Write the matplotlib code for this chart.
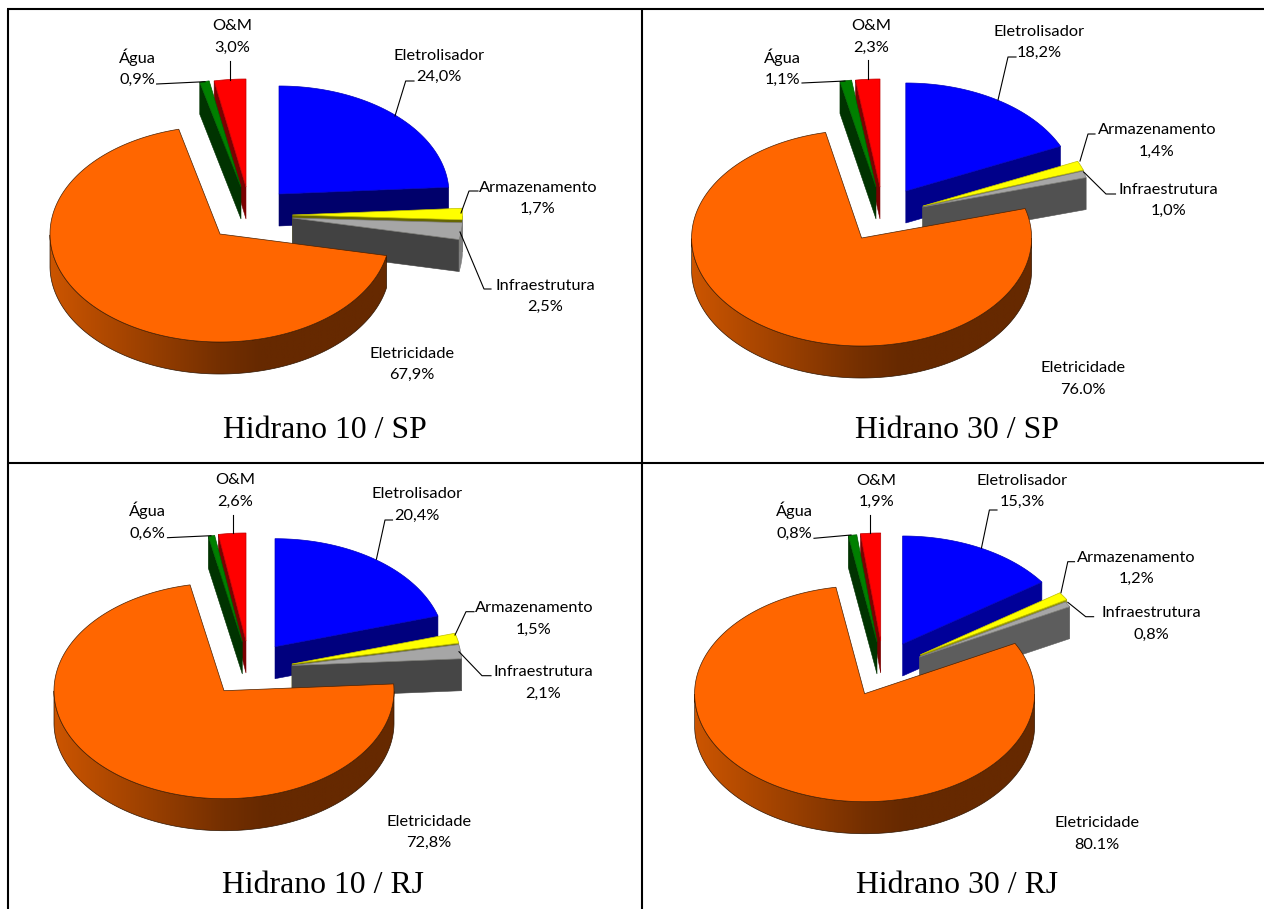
import matplotlib
matplotlib.use('Agg')
import matplotlib.pyplot as plt
import numpy as np
from matplotlib.patches import Polygon

# --- Data ---
CATEGORIES = ['Eletrolisador', 'Armazenamento', 'Infraestrutura', 'Eletricidade', 'Água', 'O&M']
HIDRANO_10_SP = [24.0, 1.7, 2.5, 67.9, 0.9, 3.0]
HIDRANO_30_SP = [18.2, 1.4, 1.0, 76.0, 1.1, 2.3]
HIDRANO_10_RJ = [20.4, 1.5, 2.1, 72.8, 0.6, 2.6]
HIDRANO_30_RJ = [15.3, 1.2, 0.8, 80.1, 0.8, 1.9]
TITLES = ['Hidrano 10 / SP', 'Hidrano 30 / SP', 'Hidrano 10 / RJ', 'Hidrano 30 / RJ']
ELEC_DECIMAL = [',', '.', ',', '.']
SERIES = [HIDRANO_10_SP, HIDRANO_30_SP, HIDRANO_10_RJ, HIDRANO_30_RJ]

# --- Configuration ---
WIDTH, HEIGHT = 1264, 909
RX, RY, DEPTH = 170, 108, 32
TOP_COLORS = ['#0000FF', '#FFFF00', '#A6A6A6', '#FF6600', '#008000', '#FF0000']
FIXED_SIDES = {4: '#003300', 5: '#7A0000'}
DRAW_ORDER = [5, 4, 0, 1, 2, 3]
ELEC = 3

# Pie position in each cell and how far every slice is pulled out of it
CENTERS = [(220, 234), (861.6, 238), (224, 690.7), (864.6, 693.7)]
EXPLODE = [
    [(59, -40), (72.5, -19), (72.5, -16), (0, 0), (21, -47), (26, -47)],
    [(44.2, -47), (61.4, -32), (61, -31), (0, 0), (14.4, -51), (18.4, -51)],
    [(51, -44), (68, -26.7), (68, -25.2), (0, 0), (18.3, -48.7), (22, -49.7)],
    [(38, -49.7), (55.9, -39), (54.7, -36.7), (0, 0), (12.4, -51.7), (16.1, -52.7)],
]

TITLE_POS = [(324.6, 438.3), (957.4, 438.3), (323, 892.7), (957.4, 892.7)]
LABEL_POS = [
    [(438.7, 54), (538, 186), (545, 284), (411.8, 352), (137, 57), (231.8, 25)],
    [(1039, 30), (1157, 129), (1168.5, 188), (1083, 367), (782.5, 57), (871.6, 25)],
    [(416.6, 493), (534, 606.7), (543.5, 670.7), (428.7, 820), (147.8, 510.7), (235.4, 479)],
    [(1022.4, 479.3), (1136.6, 556.3), (1151, 611.7), (1096.8, 821.7), (794, 510.7), (876.4, 479.3)],
]
LEADERS = [
    [[(414, 81), (405.7, 81), (395, 116)], [(478, 191), (469, 191), (461, 213)],
     [(491, 289), (484, 289), (460, 232)], None,
     [(156.6, 84), (205, 81.7)], [(230, 61), (230, 80)]],
    [[(1016, 57), (1008, 57), (998, 100)], [(1095, 134), (1088, 134), (1080, 161)],
     [(1115.5, 194), (1106, 194), (1083.7, 172)], None,
     [(802, 83), (845, 81)], [(867.6, 60), (867.6, 79)]],
    [[(392.5, 520), (385, 520), (376.4, 559.3)], [(474, 611.7), (466, 611.7), (455, 635)],
     [(491, 675.7), (482, 675.7), (459, 651.7)], None,
     [(167.5, 537.7), (211, 535.7)], [(233, 515), (233, 533)]],
    [[(997, 510), (989.4, 510), (981.4, 548.3)], [(1074.5, 561.7), (1067.8, 561.7), (1061, 592.7)],
     [(1093.6, 616.7), (1085.7, 616.7), (1067.8, 602.3)], None,
     [(814, 538.3), (851, 535)], [(870, 515), (870, 533.3)]],
]


def rim(apex, params):
    """Points on the slice's outer ellipse for angles in degrees."""
    t = np.deg2rad(params)
    return np.column_stack([apex[0] + RX * np.cos(t), apex[1] - RY * np.sin(t)])


def darker(color, factor):
    rgb = np.array(matplotlib.colors.to_rgb(color))
    return tuple(rgb * factor)


def orange_gradient():
    # Side wall of the big slice fades from left to right
    t = np.linspace(0, 1, 400)
    r = np.interp(t, [0, 0.5, 0.62, 1], [204, 116, 102, 102]) / 255
    g = np.interp(t, [0, 0.5, 0.62, 1], [85, 47, 41, 41]) / 255
    return np.dstack([r, g, np.zeros_like(t)])


def draw_cut_face(ax, apex, param, color):
    p = rim(apex, np.array([param]))[0]
    quad = [apex, p, (p[0], p[1] + DEPTH), (apex[0], apex[1] + DEPTH)]
    ax.add_patch(Polygon(quad, closed=True, facecolor=color, edgecolor=color, lw=0.4))


def draw_rim_wall(ax, apex, start, end, idx):
    # Only the part of the rim below the horizontal faces the viewer
    wall = np.append(np.arange(start, end, -0.5), end)
    wall = wall[np.sin(np.deg2rad(wall)) <= 0]
    if len(wall) < 2:
        return
    pts = rim(apex, wall)
    outline = np.vstack([pts, pts[::-1] + [0, DEPTH]])
    if idx == ELEC:
        shape = Polygon(outline, closed=True, facecolor='none', edgecolor='#301500', lw=0.5, zorder=1.5)
        ax.add_patch(shape)
        im = ax.imshow(orange_gradient(), aspect='auto', zorder=1.4,
                       extent=[apex[0] - RX, apex[0] + RX, apex[1] + RY + DEPTH, apex[1]])
        im.set_clip_path(shape)
    else:
        ax.add_patch(Polygon(outline, closed=True, facecolor='#7F7F7F', edgecolor='#7F7F7F', lw=0.4))


def draw_slice(ax, apex, start, end, idx):
    # Side faces first, the top surface goes over them
    color = TOP_COLORS[idx]
    if np.cos(np.deg2rad(end)) > 1e-6 and idx != ELEC:
        shade = 0.40 + 0.0057 * max(end, 0)
        draw_cut_face(ax, apex, end, darker(color, shade))
    if np.cos(np.deg2rad(start)) < -1e-6 and idx != ELEC:
        draw_cut_face(ax, apex, start, FIXED_SIDES.get(idx, darker(color, 0.4)))
    draw_rim_wall(ax, apex, start, end, idx)

    arc = rim(apex, np.linspace(start, end, 200))
    top = np.vstack([apex, arc])
    edge = '#4A2000' if idx == ELEC else darker(color, 0.75)
    z = 1.6 if idx == ELEC else 1
    ax.add_patch(Polygon(top, closed=True, facecolor=color, edgecolor=edge, lw=0.5, zorder=z))


def draw_pie(ax, values, center, offsets):
    total = sum(values)
    bounds = 90 - np.cumsum([0] + list(values)) / total * 360
    for idx in DRAW_ORDER:
        apex = (center[0] + offsets[idx][0], center[1] + offsets[idx][1])
        draw_slice(ax, apex, bounds[idx], bounds[idx + 1], idx)


def value_text(value, decimal):
    return f"{value:.1f}%".replace('.', decimal)


# --- Main ---
fig = plt.figure(figsize=(WIDTH / 100, HEIGHT / 100), dpi=100)
ax = fig.add_axes([0, 0, 1, 1])
ax.axis('off')

# Table rules around the four cells
for x in (8, 642):
    ax.plot([x, x], [9, HEIGHT], color='black', lw=1.5, solid_capstyle='butt')
for y in (9, 463):
    ax.plot([7, WIDTH], [y, y], color='black', lw=1.5, solid_capstyle='butt')

for p, values in enumerate(SERIES):
    draw_pie(ax, values, CENTERS[p], EXPLODE[p])

    for i, name in enumerate(CATEGORIES):
        decimal = ELEC_DECIMAL[p] if i == ELEC else ','
        x, y = LABEL_POS[p][i]
        ax.text(x, y + 5.5, name, family='Lato', fontsize=11.8, color='black', ha='center', va='baseline')
        ax.text(x, y + 27, value_text(values[i], decimal), family='Lato', fontsize=11.8,
                color='black', ha='center', va='baseline')
        if LEADERS[p][i] is not None:
            lx, ly = zip(*LEADERS[p][i])
            ax.plot(lx, ly, color='black', lw=0.8)

    ax.text(TITLE_POS[p][0], TITLE_POS[p][1], TITLES[p], family='Liberation Serif',
            fontsize=22.9, color='black', ha='center', va='baseline')

ax.set_xlim(0, WIDTH)
ax.set_ylim(HEIGHT, 0)

fig.savefig('out.png', dpi=100)
